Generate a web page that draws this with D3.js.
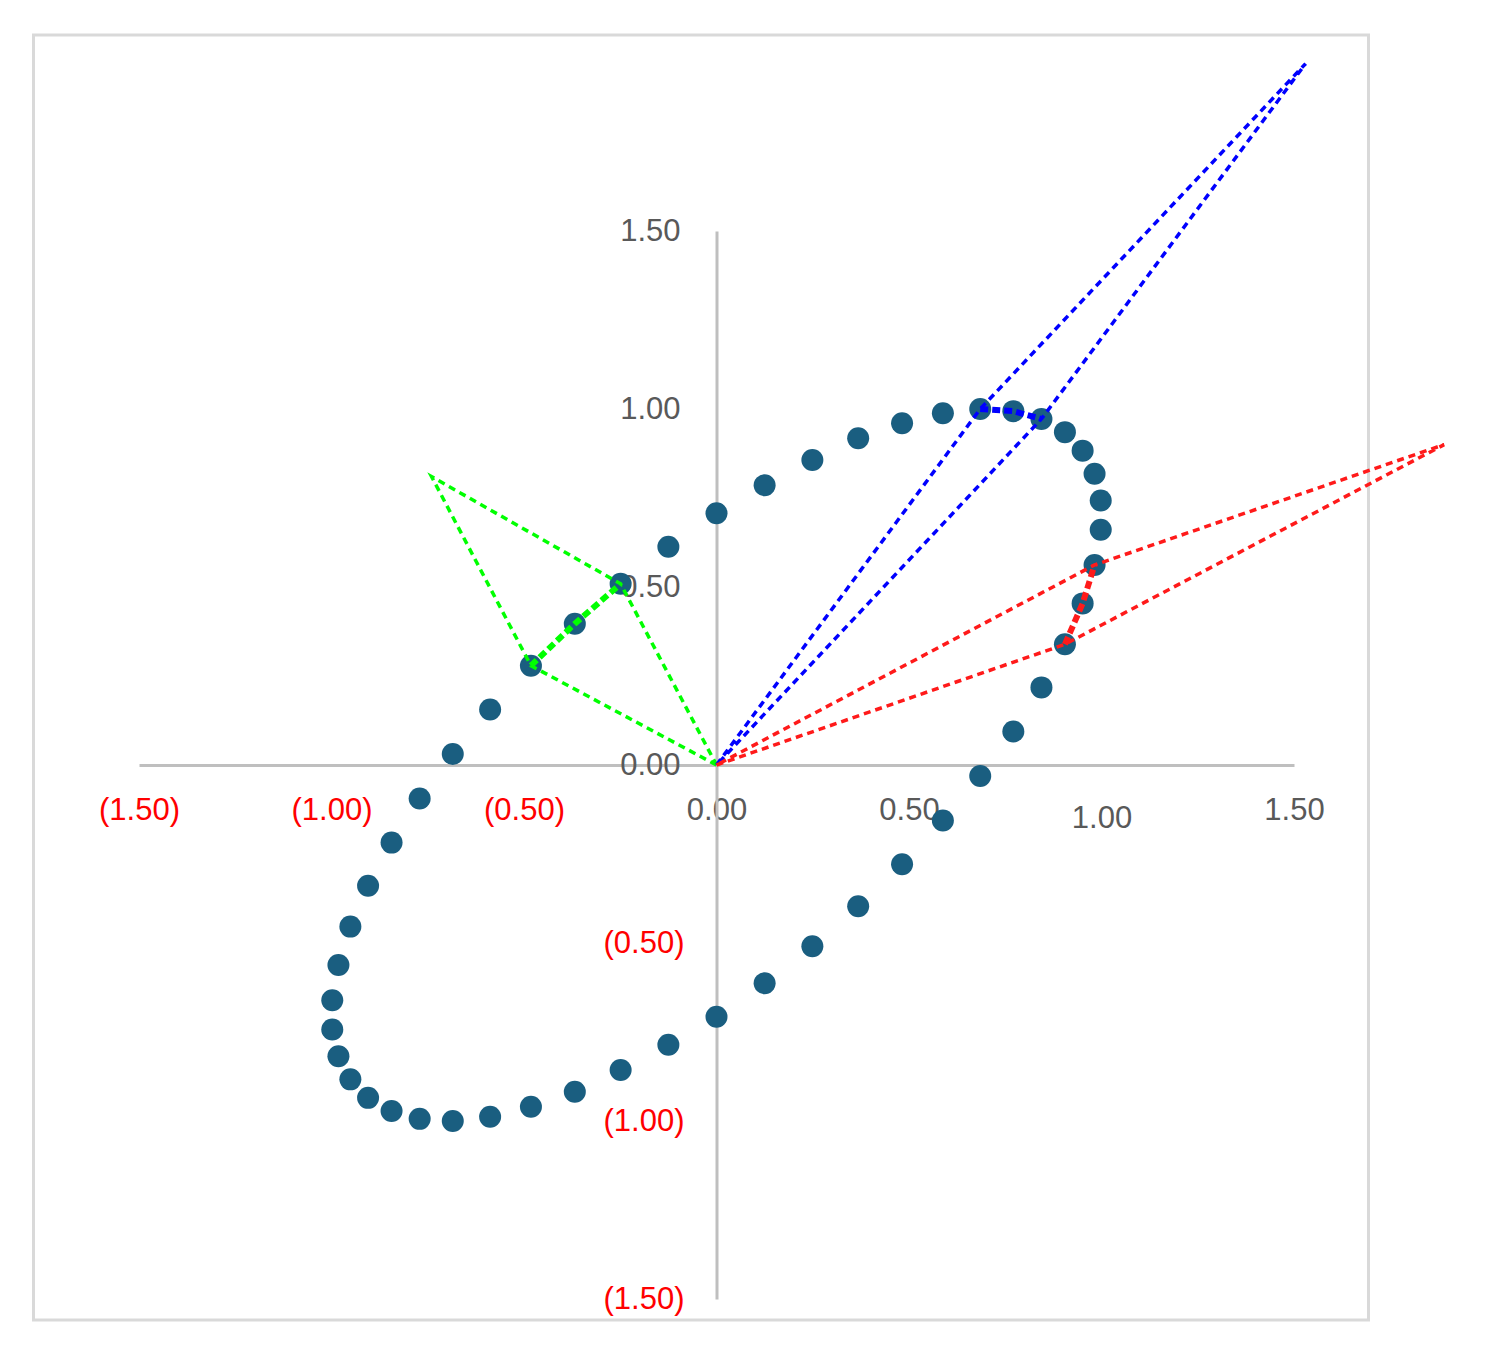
<!DOCTYPE html>
<html lang="en">
<head>
    <meta charset="UTF-8">
    <title>Curve with vector parallelograms</title>
    <script src="https://d3js.org/d3.v7.min.js"></script>
    <style>
        body {
            margin: 0;
            background: #fff;
            font-family: 'Liberation Sans', Arial, sans-serif;
        }
        .axis text {
            font-family: 'Liberation Sans', Arial, sans-serif;
            font-size: 31px;
        }
    </style>
</head>
<body>
    <div id="chart"></div>

    <script>
        // points of the curve
        const curveX = [0, 0.125, 0.249, 0.368, 0.482, 0.588, 0.685, 0.771, 0.844, 0.905,
            0.951, 0.982, 0.998, 0.998, 0.982, 0.951, 0.905, 0.844, 0.771, 0.685,
            0.588, 0.482, 0.368, 0.249, 0.125, 0, -0.125, -0.249, -0.368, -0.482,
            -0.588, -0.685, -0.771, -0.844, -0.905, -0.951, -0.982, -0.998, -0.998, -0.982,
            -0.951, -0.905, -0.844, -0.771, -0.685, -0.588, -0.482, -0.368, -0.249, -0.125];
        const curveY = [0.707, 0.786, 0.857, 0.918, 0.960, 0.988, 1.0, 0.994, 0.972, 0.935,
            0.883, 0.818, 0.743, 0.661, 0.562, 0.454, 0.339, 0.218, 0.094, -0.031,
            -0.156, -0.279, -0.397, -0.509, -0.613, -0.707, -0.786, -0.857, -0.918, -0.960,
            -0.988, -1.0, -0.994, -0.972, -0.935, -0.883, -0.818, -0.743, -0.661, -0.562,
            -0.454, -0.339, -0.218, -0.094, 0.031, 0.156, 0.279, 0.397, 0.509, 0.613];

        // parallelograms: origin, A, A+B, B  (x values / y values)
        const greenX = [0, -0.482, -0.74, -0.249, 0];
        const greenY = [0, 0.279, 0.81, 0.509, 0];
        const blueX = [0, 0.685, 1.53, 0.844, 0];
        const blueY = [0, 1.0, 1.97, 0.972, 0];
        const redX = [0, 0.905, 1.89, 0.982, 0];
        const redY = [0, 0.339, 0.90, 0.562, 0];

        // the short segment between A and B along the curve
        const greenSegX = [-0.482, -0.368, -0.249];
        const greenSegY = [0.279, 0.397, 0.509];
        const blueSegX = [0.685, 0.771, 0.844];
        const blueSegY = [1.0, 0.994, 0.972];
        const redSegX = [0.905, 0.951, 0.982];
        const redSegY = [0.339, 0.454, 0.562];

        const tickValues = [-1.5, -1, -0.5, 0, 0.5, 1, 1.5];

        const width = 1485, height = 1346;

        const svg = d3.select("#chart")
            .append("svg")
            .attr("width", width)
            .attr("height", height);

        // chart border
        svg.append("rect")
            .attr("x", 33.5).attr("y", 35)
            .attr("width", 1335).attr("height", 1285)
            .attr("fill", "none")
            .attr("stroke", "#d9d9d9")
            .attr("stroke-width", 3);

        const x = d3.scaleLinear().domain([-1.5, 1.5]).range([139, 1294]);
        const y = d3.scaleLinear().domain([-1.5, 1.5]).range([1299, 231]);

        const fmt = v => v < 0 ? "(" + d3.format(".2f")(-v) + ")" : d3.format(".2f")(v);

        const xAxis = svg.append("g")
            .attr("class", "axis")
            .attr("transform", `translate(0,${y(0)})`)
            .call(d3.axisBottom(x).tickValues(tickValues).tickSize(0).tickPadding(33).tickFormat(fmt));

        const yAxis = svg.append("g")
            .attr("class", "axis")
            .attr("transform", `translate(${x(0)},0)`)
            .call(d3.axisLeft(y).tickValues(tickValues).tickSize(0).tickPadding(32).tickFormat(fmt));

        svg.selectAll(".axis .domain")
            .attr("stroke", "#bfbfbf")
            .attr("stroke-width", 3);

        svg.selectAll(".axis text")
            .attr("fill", d => d < 0 ? "#ff0000" : "#595959");

        // small nudges seen in the original
        xAxis.selectAll("text").filter(d => d === 1).attr("y", 41);
        yAxis.selectAll("text").filter(d => d >= 0).attr("dx", -4);

        // curve points
        const pts = curveX.map((v, i) => ({x: v, y: curveY[i]}));
        svg.append("g")
            .selectAll("circle")
            .data(pts)
            .enter().append("circle")
            .attr("cx", d => x(d.x))
            .attr("cy", d => y(d.y))
            .attr("r", 11)
            .attr("fill", "#1a5e80");

        const line = d3.line().x(d => x(d[0])).y(d => y(d[1]));
        const zip = (a, b) => a.map((v, i) => [v, b[i]]);

        const shapes = [
            {xs: greenX, ys: greenY, sx: greenSegX, sy: greenSegY, color: "#00ff00"},
            {xs: blueX, ys: blueY, sx: blueSegX, sy: blueSegY, color: "#0000ff"},
            {xs: redX, ys: redY, sx: redSegX, sy: redSegY, color: "#ff1a1a"}
        ];

        shapes.forEach(s => {
            svg.append("path")
                .attr("d", line(zip(s.xs, s.ys)))
                .attr("fill", "none")
                .attr("stroke", s.color)
                .attr("stroke-width", 3.5)
                .attr("stroke-dasharray", "7,5");
            svg.append("path")
                .attr("d", line(zip(s.sx, s.sy)))
                .attr("fill", "none")
                .attr("stroke", s.color)
                .attr("stroke-width", 6)
                .attr("stroke-dasharray", "8,4");
        });
    </script>
</body>
</html>
